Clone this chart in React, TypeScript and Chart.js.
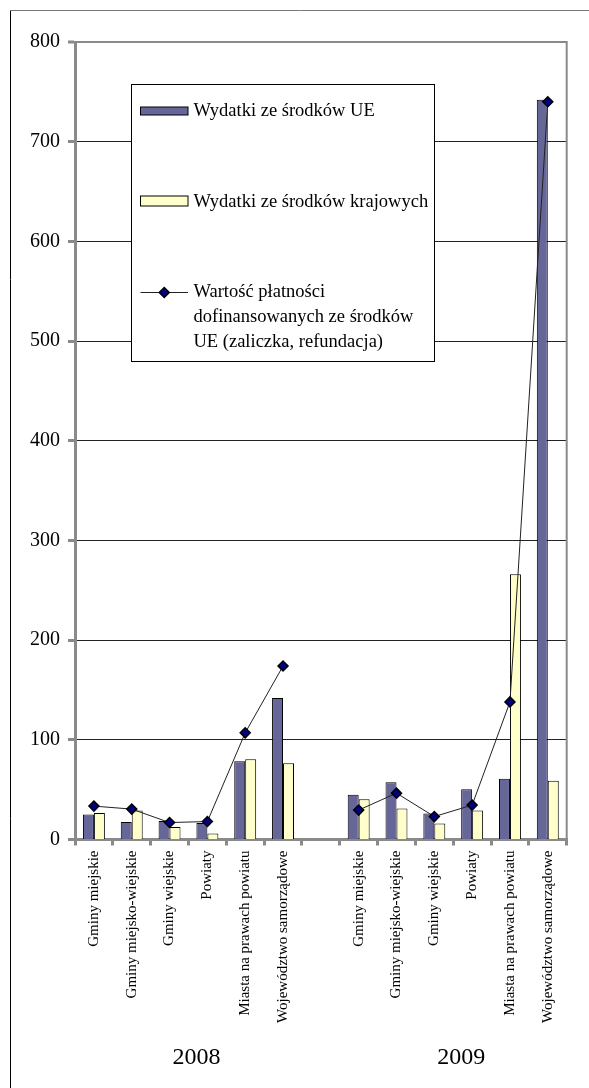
import React, { useEffect, useRef } from "react";
import { Chart, registerables } from "chart.js";

Chart.register(...registerables);

const categories2008 = [
  "Gminy miejskie",
  "Gminy miejsko-wiejskie",
  "Gminy wiejskie",
  "Powiaty",
  "Miasta na prawach powiatu",
  "Województwo samorządowe",
];
const categories2009 = [
  "Gminy miejskie",
  "Gminy miejsko-wiejskie",
  "Gminy wiejskie",
  "Powiaty",
  "Miasta na prawach powiatu",
  "Województwo samorządowe",
];
const years = ["2008", "2009"];

const wydatkiUE2008 = [25, 17.5, 18.5, 16.5, 78.5, 142];
const wydatkiUE2009 = [45, 57.5, 26, 50.5, 61, 742];
const wydatkiKrajowe2008 = [26.5, 29, 12.5, 6, 80.5, 76.5];
const wydatkiKrajowe2009 = [40.5, 31, 16, 29, 266, 59];
const platnosci2008 = [33.5, 30.5, 17, 18, 107, 174];
const platnosci2009 = [29.5, 46.5, 23, 34.5, 138, 740];

const yTicks = [0, 100, 200, 300, 400, 500, 600, 700, 800];

const legendLabels = [
  "Wydatki ze środków UE",
  "Wydatki ze środków krajowych",
];
const legendLineLabel = [
  "Wartość płatności",
  "dofinansowanych ze środków",
  "UE (zaliczka, refundacja)",
];

const SERIF = '"Liberation Serif", "Times New Roman", serif';
const COLOR_UE = "#666699";
const COLOR_KR = "#FFFFCC";
const COLOR_MARK = "#000080";
const GRAY = "#8a8a8a";

const labels = [...categories2008, "", ...categories2009];
const ueData = [...wydatkiUE2008, null, ...wydatkiUE2009];
const krData = [...wydatkiKrajowe2008, null, ...wydatkiKrajowe2009];
const plData = [...platnosci2008, null, ...platnosci2009];

function drawDiamond(ctx: CanvasRenderingContext2D, x: number, y: number, r: number) {
  ctx.beginPath();
  ctx.moveTo(x, y - r);
  ctx.lineTo(x + r, y);
  ctx.lineTo(x, y + r);
  ctx.lineTo(x - r, y);
  ctx.closePath();
  ctx.fillStyle = COLOR_MARK;
  ctx.fill();
  ctx.lineWidth = 1.5;
  ctx.strokeStyle = "#000";
  ctx.stroke();
}

const decorPlugin = {
  id: "decor",
  beforeDraw(chart: any) {
    const ctx = chart.ctx as CanvasRenderingContext2D;
    ctx.save();
    ctx.fillStyle = "#fff";
    ctx.fillRect(0, 0, chart.width, chart.height);
    ctx.strokeStyle = "#000";
    ctx.lineWidth = 1;
    ctx.beginPath();
    ctx.moveTo(10.5, 10);
    ctx.lineTo(10.5, chart.height);
    ctx.stroke();
    ctx.strokeStyle = "#777";
    ctx.beginPath();
    ctx.moveTo(10, 10.5);
    ctx.lineTo(chart.width, 10.5);
    ctx.stroke();
    ctx.restore();
  },
  beforeDatasetsDraw(chart: any) {
    const ctx = chart.ctx as CanvasRenderingContext2D;
    const a = chart.chartArea;
    ctx.save();
    ctx.strokeStyle = GRAY;
    ctx.lineWidth = 2;
    ctx.beginPath();
    ctx.moveTo(a.right, a.top - 1);
    ctx.lineTo(a.right, a.bottom);
    ctx.stroke();
    ctx.restore();
  },
  afterDraw(chart: any) {
    const ctx = chart.ctx as CanvasRenderingContext2D;
    const a = chart.chartArea;
    const xs = chart.scales.x;
    ctx.save();
    const bx = a.left + 56.5;
    const by = a.top + 42.5;
    const bw = 303;
    const bh = 277;
    ctx.fillStyle = "#fff";
    ctx.fillRect(bx, by, bw, bh);
    ctx.strokeStyle = "#000";
    ctx.lineWidth = 1;
    ctx.strokeRect(bx, by, bw, bh);

    ctx.font = `18.5px ${SERIF}`;
    ctx.textAlign = "left";
    ctx.textBaseline = "middle";
    const sx = bx + 9;
    const sw = 47.5;
    const tx = bx + 62;
    ctx.fillStyle = COLOR_UE;
    ctx.fillRect(sx, by + 22.5, sw, 8);
    ctx.strokeRect(sx, by + 22.5, sw, 8);
    ctx.fillStyle = "#000";
    ctx.fillText(legendLabels[0], tx, by + 27);
    ctx.fillStyle = COLOR_KR;
    ctx.fillRect(sx, by + 111.5, sw, 10);
    ctx.strokeRect(sx, by + 111.5, sw, 10);
    ctx.fillStyle = "#000";
    ctx.fillText(legendLabels[1], tx, by + 117.5);
    const ly = by + 208;
    ctx.strokeStyle = "#222";
    ctx.lineWidth = 1;
    ctx.beginPath();
    ctx.moveTo(sx, ly);
    ctx.lineTo(sx + sw, ly);
    ctx.stroke();
    drawDiamond(ctx, sx + sw / 2, ly, 5);
    ctx.fillStyle = "#000";
    legendLineLabel.forEach((t, i) => {
      ctx.fillText(t, tx, ly + i * 25);
    });

    ctx.font = `24px ${SERIF}`;
    ctx.textAlign = "center";
    const groups = [
      [0, categories2008.length - 1],
      [categories2008.length + 1, categories2008.length + categories2009.length],
    ];
    groups.forEach((g, i) => {
      const mid = (xs.getPixelForValue(g[0]) + xs.getPixelForValue(g[1])) / 2 + 8;
      ctx.fillText(years[i], mid, 1058);
    });
    ctx.restore();
  },
};

export default function App() {
  const ref = useRef<HTMLCanvasElement | null>(null);

  useEffect(() => {
    if (!ref.current) return;
    const chart = new Chart(ref.current, {
      type: "bar",
      data: {
        labels,
        datasets: [
          {
            type: "line",
            label: legendLineLabel.join(" "),
            data: plData,
            borderColor: "#222",
            borderWidth: 1,
            pointStyle: "rectRot",
            pointRadius: 5,
            pointBackgroundColor: COLOR_MARK,
            pointBorderColor: "#000",
            pointBorderWidth: 1.5,
            spanGaps: false,
            order: 0,
            tension: 0,
          } as any,
          {
            label: legendLabels[0],
            data: ueData,
            backgroundColor: COLOR_UE,
            borderColor: "#000",
            borderWidth: 1,
            categoryPercentage: 0.58,
            barPercentage: 1,
            order: 1,
          },
          {
            label: legendLabels[1],
            data: krData,
            backgroundColor: COLOR_KR,
            borderColor: "#000",
            borderWidth: 1,
            categoryPercentage: 0.58,
            barPercentage: 1,
            order: 1,
          },
        ],
      },
      options: {
        animation: false,
        responsive: true,
        maintainAspectRatio: false,
        layout: { padding: { top: 42, right: 22.3, left: 0, bottom: 0 } },
        plugins: {
          legend: { display: false },
          tooltip: { enabled: false },
        },
        scales: {
          x: {
            afterFit: (s: any) => {
              s.height = 248.5;
            },
            grid: {
              offset: true,
              drawOnChartArea: false,
              drawTicks: true,
              tickLength: 6,
              tickColor: GRAY,
              tickWidth: 3,
              lineWidth: 3,
              color: GRAY,
            },
            border: { color: GRAY, width: 3 },
            ticks: {
              autoSkip: false,
              minRotation: 90,
              maxRotation: 90,
              padding: 5,
              color: "#000",
              font: { family: SERIF, size: 15 },
            },
          },
          y: {
            min: yTicks[0],
            max: yTicks[yTicks.length - 1],
            afterFit: (s: any) => {
              s.width = 75;
            },
            afterBuildTicks: (s: any) => {
              s.ticks = yTicks.map((v) => ({ value: v }));
            },
            grid: {
              color: (c: any) => (c.tick && c.tick.value === 800 ? GRAY : "#222"),
              lineWidth: (c: any) => (c.tick && c.tick.value === 800 ? 2 : 1),
              tickColor: GRAY,
              tickWidth: 3,
              tickLength: 7,
            },
            border: { color: GRAY, width: 3 },
            ticks: {
              padding: 8,
              color: "#000",
              font: { family: SERIF, size: 20 },
            },
          },
        },
      },
      plugins: [decorPlugin],
    });
    return () => chart.destroy();
  }, []);

  return (
    <div style={{ position: "absolute", left: 0, top: 0, width: 589, height: 1088 }}>
      <canvas ref={ref} />
    </div>
  );
}
